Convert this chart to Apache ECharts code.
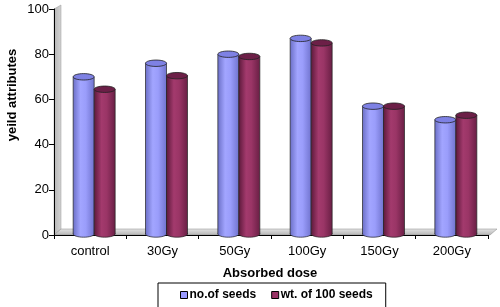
<!DOCTYPE html>
<html><head><meta charset="utf-8">
<script src="https://cdn.jsdelivr.net/npm/echarts@6/dist/echarts.min.js"></script>
<style>html,body{margin:0;padding:0;background:#fff}#c{width:500px;height:307px}</style>
</head><body><div id="c"></div>
<script>
var categories = ['control', '30Gy', '50Gy', '100Gy', '150Gy', '200Gy'];
var seedsNo = [70, 76, 80, 87, 57, 51];
var seedsWt = [64.5, 70.5, 79, 85, 57, 53];
var yTicks = [0, 20, 40, 60, 80, 100];
var seriesNames = ['no.of seeds', 'wt. of 100 seeds'];

var FONT = '"Liberation Sans", Arial, sans-serif';
var chart = echarts.init(document.getElementById('c'), null, {renderer: 'canvas'});

function cylinder(offset, body, top) {
  return function (params, api) {
    var i = api.value(0), v = api.value(1);
    var p = api.coord([i, v]);
    var b = api.coord([i, 0]);
    var hw = 10.5, ry = 3.2;
    var cx = p[0] + offset;
    var baseY = b[1] - 1;
    var grad = new echarts.graphic.LinearGradient(0, 0, 1, 0, body);
    return {
      type: 'group',
      children: [
        {type: 'ellipse', shape: {cx: cx, cy: baseY, rx: hw, ry: ry},
         style: {fill: grad, stroke: '#222', lineWidth: 0.7}},
        {type: 'rect', shape: {x: cx - hw, y: p[1], width: hw * 2, height: baseY - p[1]},
         style: {fill: grad, stroke: null}},
        {type: 'line', shape: {x1: cx - hw, y1: p[1], x2: cx - hw, y2: baseY},
         style: {stroke: '#222', lineWidth: 0.7}},
        {type: 'line', shape: {x1: cx + hw, y1: p[1], x2: cx + hw, y2: baseY},
         style: {stroke: '#222', lineWidth: 0.7}},
        {type: 'ellipse', shape: {cx: cx, cy: p[1], rx: hw, ry: ry},
         style: {fill: top, stroke: '#222', lineWidth: 0.8}}
      ]
    };
  };
}

var blueBody = [
  {offset: 0, color: '#6c70c8'}, {offset: 0.35, color: '#a2a5ff'},
  {offset: 0.6, color: '#9a9dfb'}, {offset: 1, color: '#7174cf'}];
var redBody = [
  {offset: 0, color: '#5e1a3c'}, {offset: 0.35, color: '#a33a6d'},
  {offset: 0.6, color: '#9a3566'}, {offset: 1, color: '#6a1f45'}];

var option = {
  animation: false,
  backgroundColor: '#fff',
  grid: {left: 54, right: 12, top: 9, bottom: 72},
  xAxis: {
    type: 'category', data: categories, boundaryGap: true,
    axisLine: {lineStyle: {color: '#000', width: 1}},
    axisTick: {show: true, length: 4, lineStyle: {color: '#000'}},
    axisLabel: {color: '#000', fontFamily: FONT, fontSize: 13, margin: 10}
  },
  yAxis: {
    type: 'value', min: yTicks[0], max: yTicks[yTicks.length - 1], interval: 20,
    axisLine: {show: true, lineStyle: {color: '#000', width: 1}},
    axisTick: {show: true, length: 5, lineStyle: {color: '#000'}},
    axisLabel: {color: '#000', fontFamily: FONT, fontSize: 13, margin: 5},
    splitLine: {show: false}
  },
  legend: {
    left: 158, top: 283,
    padding: [6, 13, 12, 22], itemGap: 15, itemWidth: 7, itemHeight: 7,
    borderColor: '#000', borderWidth: 1,
    icon: 'rect',
    textStyle: {color: '#000', fontFamily: FONT, fontSize: 12, fontWeight: 'bold', padding: [0, 0, 0, -3]},
    data: [
      {name: seriesNames[0], itemStyle: {color: '#9999ff', borderColor: '#000', borderWidth: 1}},
      {name: seriesNames[1], itemStyle: {color: '#993366', borderColor: '#000', borderWidth: 1}}
    ]
  },
  graphic: [
    {type: 'polygon', z: -1, shape: {points: [[54, 235], [54, 9], [61, 5], [61, 229]]},
     style: {fill: new echarts.graphic.LinearGradient(0, 0, 1, 0, [{offset: 0, color: '#b4b4b4'}, {offset: 1, color: '#d4d4d4'}]), stroke: '#999', lineWidth: 0.5}},
    {type: 'polygon', z: -1, shape: {points: [[54, 235], [61, 229], [497, 229], [490, 235]]},
     style: {fill: new echarts.graphic.LinearGradient(0, 0, 0, 1, [{offset: 0, color: '#e4e4e4'}, {offset: 1, color: '#b4b4b4'}]), stroke: '#888', lineWidth: 0.5}},
    {type: 'text', x: 12, y: 95, rotation: Math.PI / 2,
     style: {text: 'yeild attributes', fill: '#000', font: 'bold 13px ' + FONT, align: 'center', verticalAlign: 'middle'}},
    {type: 'text', x: 270, y: 273,
     style: {text: 'Absorbed dose', fill: '#000', font: 'bold 13px ' + FONT, align: 'center', verticalAlign: 'middle'}}
  ],
  series: [
    {name: seriesNames[0], type: 'custom', itemStyle: {color: '#9999ff'},
     renderItem: cylinder(-6.5, blueBody, '#7e81e4'),
     data: seedsNo.map(function (v, i) { return [i, v]; }), encode: {x: 0, y: 1}, z: 3},
    {name: seriesNames[1], type: 'custom', itemStyle: {color: '#993366'},
     renderItem: cylinder(14.5, redBody, '#6c1f47'),
     data: seedsWt.map(function (v, i) { return [i, v]; }), encode: {x: 0, y: 1}, z: 4}
  ]
};
chart.setOption(option);
</script></body></html>
